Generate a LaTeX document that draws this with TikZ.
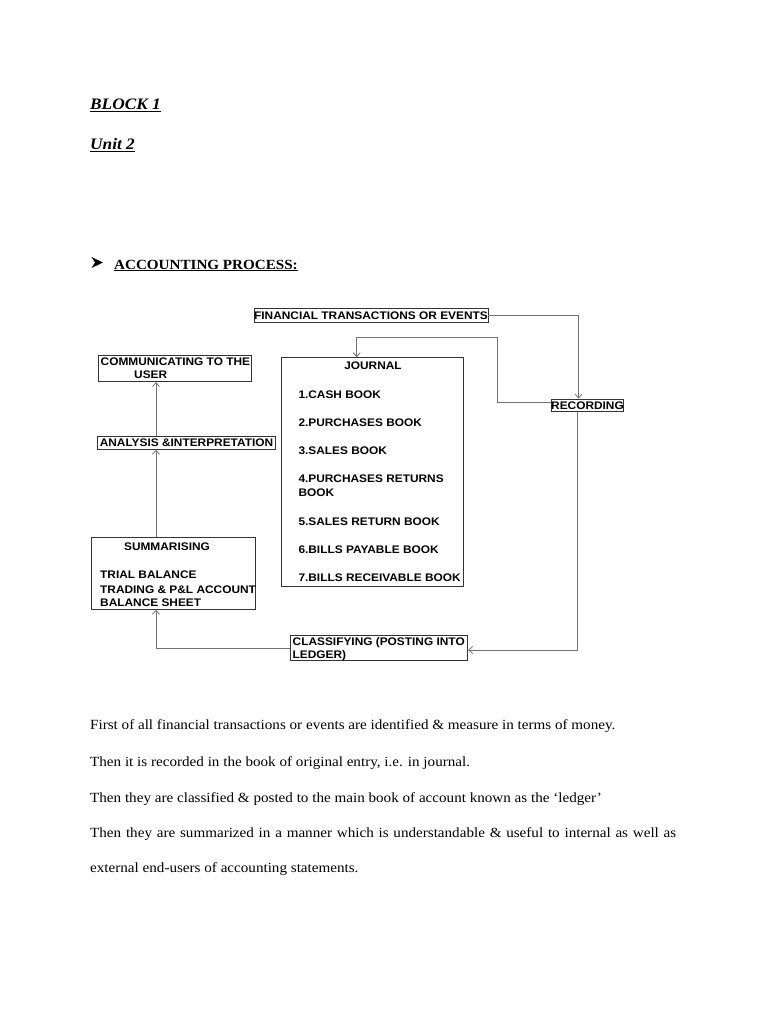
\documentclass[tikz,border=0pt]{standalone}
\usepackage{fontspec}
\setmainfont[FakeStretch=1.08]{Liberation Serif}
\newfontfamily\arial[FakeStretch=1.08]{Liberation Sans}
\usetikzlibrary{arrows.meta}
\tikzset{
  box/.style={draw=black!80, line width=0.8pt, inner sep=0pt, font=\arial\bfseries\fontsize{11}{13}\selectfont},
  lbl/.style={inner sep=0pt, anchor=base west, font=\arial\bfseries\fontsize{11}{13}\selectfont},
  conn/.style={draw=black!55, line width=0.8pt, -{Straight Barb[length=4pt,width=7pt]}},
  body/.style={inner sep=0pt, anchor=base west, font=\fontsize{14}{16}\selectfont},
}
\begin{document}
\begin{tikzpicture}[x=1pt,y=-1pt]
\useasboundingbox (0,0) rectangle (768,1024);
% headings
\node[body, font=\bfseries\itshape\fontsize{16}{18}\selectfont] (h1) at (90,110) {\underline{BLOCK 1}};
\node[body, font=\bfseries\itshape\fontsize{16}{18}\selectfont] (h2) at (90,150) {\underline{Unit 2}};
\fill (91.5,257) -- (103,262.5) -- (91.5,268) -- (95,262.5) -- cycle;
\node[body, font=\bfseries\fontsize{14}{17}\selectfont] (h3) at (114,269) {\underline{ACCOUNTING PROCESS:}};
% boxes
\node[box, minimum width=234, minimum height=14] (fin) at (371,315.3) {FINANCIAL TRANSACTIONS OR EVENTS};
\node[box, minimum width=153.4, minimum height=26.7] (comm) at (175,368.3) {};
\node[lbl] at (100.5,365) {COMMUNICATING TO THE};
\node[lbl] at (134,378.3) {USER};
\node[box, minimum width=182, minimum height=229] (jour) at (372,472.2) {};
\node[lbl, anchor=base] at (373,369.3) {JOURNAL};
\node[lbl] at (298.3,398.3) {1.CASH BOOK};
\node[lbl] at (298.3,426) {2.PURCHASES BOOK};
\node[lbl] at (298.3,454.3) {3.SALES BOOK};
\node[lbl] at (298.3,482.3) {4.PURCHASES RETURNS};
\node[lbl] at (298.3,496.7) {BOOK};
\node[lbl] at (298.3,525) {5.SALES RETURN BOOK};
\node[lbl] at (298.3,553.3) {6.BILLS PAYABLE BOOK};
\node[lbl] at (298.3,581) {7.BILLS RECEIVABLE BOOK};
\node[box, minimum width=72, minimum height=12.5] (rec) at (587.5,405.3) {RECORDING};
\node[box, minimum width=178.3, minimum height=13] (ana) at (186.5,442.8) {ANALYSIS \&INTERPRETATION};
\node[box, minimum width=164.5, minimum height=72] (summ) at (173.3,573.3) {};
\node[lbl, anchor=base] at (167,550) {SUMMARISING};
\node[lbl] at (100,578.3) {TRIAL BALANCE};
\node[lbl] at (100,593) {TRADING \& P\&L ACCOUNT};
\node[lbl] at (100,606.7) {BALANCE SHEET};
\node[box, minimum width=177, minimum height=25] (cls) at (379.2,647.5) {};
\node[lbl] at (292.5,645) {CLASSIFYING (POSTING INTO};
\node[lbl] at (292.5,658.3) {LEDGER)};
% connectors
\coordinate (colx) at (156,0);
\coordinate (r1) at (578.5,0);
\coordinate (r2) at (497.7,0);
\coordinate (j1) at (356.7,337.5);
\coordinate (r3) at (577.5,0);
\draw[conn] (fin.east) -- (fin.east -| r1) -- (rec.north -| r1);
\draw[conn] ([yshift=2.5]rec.west) -- ([yshift=2.5]rec.west -| r2) -- (r2 |- j1) -- (j1) -- (jour.north -| j1);
\draw[conn] (rec.south -| r3) -- ([yshift=-2.5]cls.east -| r3) -- ([yshift=-2.5]cls.east);
\draw[conn] ([yshift=-0.5]cls.west) -- ([yshift=-0.5]cls.west -| colx) -- (summ.south -| colx);
\draw[conn] (summ.north -| colx) -- (ana.south -| colx);
\draw[conn] (ana.north -| colx) -- (comm.south -| colx);
% body text
\node[body] (t1) at (90,729) {First of all financial transactions or events are identified \& measure in terms of money.};
\node[body] (t2) at (90,766) {Then it is recorded in the book of original entry, i.e. in journal.};
\node[body] (t3) at (90,802) {Then they are classified \& posted to the main book of account known as the ‘ledger’};
\node[body] (t4) at (90,837) {\makebox[586pt][s]{Then they are summarized in a manner which is understandable \& useful to internal as well as}};
\node[body] (t5) at (90,872) {external end-users of accounting statements.};
\end{tikzpicture}
\end{document}
